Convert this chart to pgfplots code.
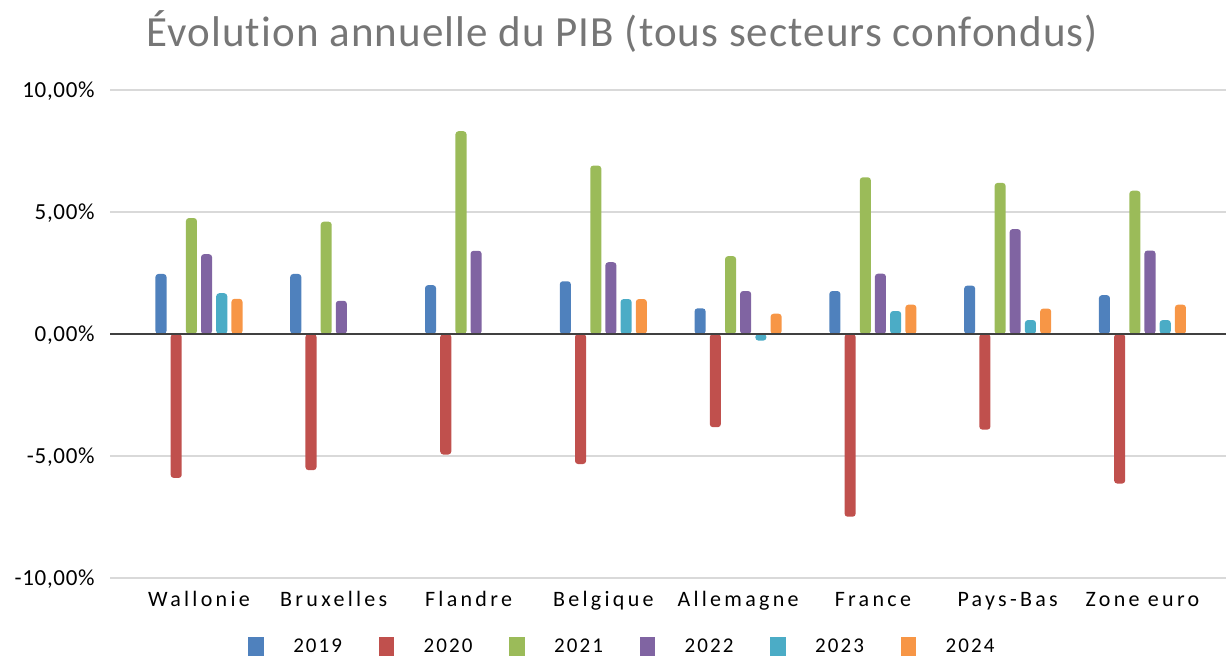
\documentclass[border=0pt]{standalone}
\usepackage{pgfplots}
\pgfplotsset{compat=1.18}
\usepackage{pgfplotstable}
\usepackage{fontspec}
\setmainfont{Carlito}
\newfontfamily\spaced[LetterSpace=15]{Carlito}
\newfontfamily\yfont[LetterSpace=3]{Carlito}
\newfontfamily\legfont[LetterSpace=10]{Carlito}
\newfontfamily\titlefont[LetterSpace=2.5, Ligatures=NoCommon]{Carlito}

\definecolor{c19}{HTML}{4F81BD}
\definecolor{c20}{HTML}{C0504D}
\definecolor{c21}{HTML}{9BBB59}
\definecolor{c22}{HTML}{8064A2}
\definecolor{c23}{HTML}{4BACC6}
\definecolor{c24}{HTML}{F79646}
\definecolor{gridgray}{HTML}{D9D9D9}
\definecolor{titlegray}{HTML}{767676}

% PIB, variation annuelle en %
\pgfplotstableread{
x  y19   y20    y21   y22   y23    y24
0  2.46  -5.90  4.75  3.27  1.67   1.44
1  2.46  -5.58  4.60  1.36  nan    nan
2  2.00  -4.94  8.31  3.41  nan    nan
3  2.16  -5.33  6.90  2.94  1.43   1.43
4  1.05  -3.82  3.19  1.76  -0.27  0.83
5  1.76  -7.49  6.42  2.47  0.94   1.20
6  1.98  -3.92  6.19  4.30  0.57   1.04
7  1.59  -6.13  5.87  3.42  0.57   1.20
}\pib

\begin{document}
\begin{tikzpicture}
\begin{axis}[
  scale only axis,
  width=558pt, height=244pt,
  xmin=-0.66, xmax=7.62,
  ymin=-10, ymax=10,
  clip mode=individual,
  xtick={0,...,7},
  xticklabels={Wallonie,Bruxelles,Flandre,Belgique,Allemagne,France,Pays-Bas,Zone euro},
  ytick={-10,-5,0,5,10},
  yticklabels={{-10,00\%},{-5,00\%},{0,00\%},{5,00\%},{10,00\%}},
  ymajorgrids,
  grid style={draw=gridgray, line width=0.8pt},
  axis line style={draw=none},
  major tick length=0pt,
  xticklabel style={font=\spaced\fontsize{11}{13}\selectfont, anchor=base, inner sep=0pt, yshift=-14.5pt},
  yticklabel style={font=\yfont\fontsize{11.5}{13}\selectfont, anchor=base east, inner sep=0pt, xshift=-7.5pt, yshift=-3.7pt},
  ybar,
  bar width=0.082,
  every axis plot/.append style={draw=none, rounded corners=1.5pt},
  legend columns=6,
  legend style={at={(0.46,-0.141)}, anchor=center, draw=none, fill=none,
    font=\legfont\fontsize{10.5}{12}\selectfont,
    /tikz/every even column/.append style={column sep=16.3pt}},
  legend image code/.code={
    \fill[#1, draw=none, sharp corners] (0pt,-4.7pt) rectangle (7.7pt,4.7pt);
    \path[draw=none, fill=none] (0pt,0pt) rectangle (20.5pt,0.1pt);
  },
]
\addplot[fill=c19, bar shift=-0.282] table[x=x, y=y19] {\pib};
\addplot[fill=c20, bar shift=-0.169] table[x=x, y=y20] {\pib};
\addplot[fill=c21, bar shift=-0.056] table[x=x, y=y21] {\pib};
\addplot[fill=c22, bar shift=0.056] table[x=x, y=y22] {\pib};
\addplot[fill=c23, bar shift=0.169] table[x=x, y=y23] {\pib};
\addplot[fill=c24, bar shift=0.282] table[x=x, y=y24] {\pib};
\legend{2019,2020,2021,2022,2023,2024}

% axe du zero
\draw[color=black!75, line width=1pt] (axis cs:-0.66,0) -- (axis cs:7.62,0);

\node[anchor=base, color=titlegray, font=\titlefont\fontsize{21.5}{24}\selectfont]
  at (rel axis cs:0.459,1.09) {Évolution annuelle du PIB (tous secteurs confondus)};

\coordinate (bl) at (rel axis cs:-0.0986,-0.166);
\coordinate (tr) at (rel axis cs:1,1.1844);
\end{axis}
\pgfresetboundingbox
\path (bl) rectangle (tr);
\end{tikzpicture}
\end{document}
